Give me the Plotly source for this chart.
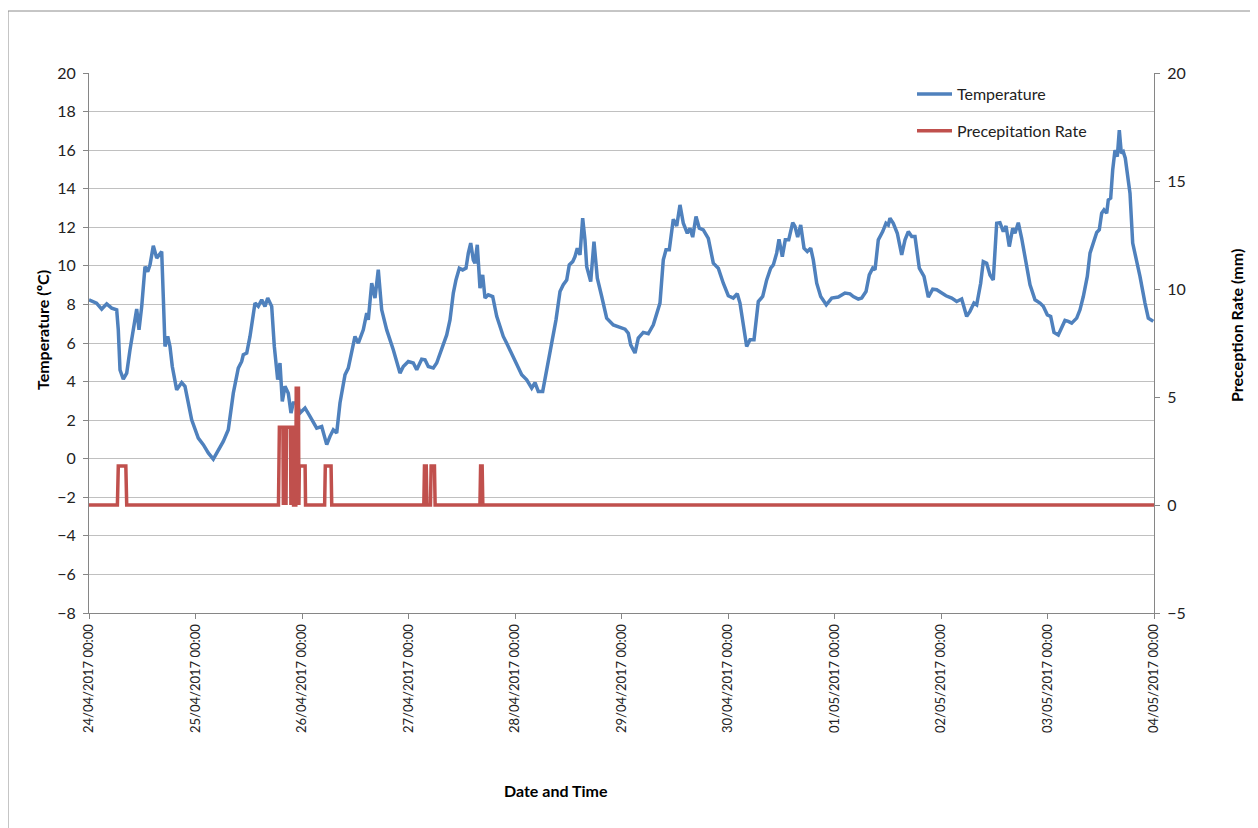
import pandas as pd
import plotly.graph_objects as go

start = pd.Timestamp("2017-04-24 00:00")

# Temperature readings: hours since 24/04/2017 00:00 and value (ºC)
temp_hours = [
    0, 1.7, 2.86, 3.99, 5.12, 6.24, 6.6, 6.99, 7.73, 8.5, 9.24, 10.21, 10.75, 11.27, 11.88,
    12.62, 13.23, 13.75, 14.49, 15.26, 15.77, 16.38, 16.74, 17.13, 17.74, 18.25, 18.77, 19.76,
    20.89, 21.63, 23.14, 24.63, 25.76, 26.88, 28.01, 29.14, 30.26, 31.39, 32.52, 33.64, 34.41,
    34.77, 35.54, 36.28, 36.66, 37.41, 38.15, 38.92, 39.66, 40.27, 41.17, 41.76, 42.52, 43.04,
    43.56, 44.17, 44.91, 45.52, 46.04, 46.81, 47.55, 48.68, 49.8, 50.55, 51.31, 52.44, 53.57,
    54.31, 55.05, 55.82, 56.56, 57.69, 58.43, 59.94, 60.69, 61.81, 62.58, 62.94, 63.71, 64.45,
    65.19, 65.96, 67.09, 68.57, 70.08, 70.83, 71.95, 73.08, 73.85, 74.97, 75.72, 76.46, 77.59,
    78.35, 79.1, 79.84, 80.61, 81.35, 82.1, 82.7, 83.45, 84.21, 84.96, 85.48, 86.02, 86.6,
    86.98, 87.5, 88.11, 88.72, 89.24, 89.98, 90.97, 91.88, 93.36, 94.13, 95.25, 96.38, 97.51,
    98.64, 99.76, 100.51, 101.25, 102.24, 103.14, 104.27, 105.24, 106.14, 106.88, 107.65,
    108.23, 109.0, 109.52, 110.04, 110.65, 111.25, 111.77, 112.16, 113.06, 113.8, 114.55,
    115.54, 116.66, 118.15, 119.66, 120.79, 121.53, 122.07, 123.04, 123.78, 124.91, 126.04,
    127.17, 127.93, 128.67, 129.42, 130.03, 130.77, 131.67, 132.44, 133.18, 133.93, 134.83,
    135.44, 136.04, 136.79, 137.53, 138.43, 139.56, 140.69, 141.81, 142.94, 144.07, 145.19,
    146.09, 146.7, 147.45, 148.21, 148.96, 149.86, 150.83, 151.82, 152.72, 153.62, 154.21,
    154.97, 155.49, 156.24, 156.91, 157.68, 158.58, 159.1, 159.7, 160.38, 161.13, 161.87,
    162.64, 163.22, 163.99, 164.89, 166.15, 167.37, 168.86, 170.36, 171.49, 172.24, 173.36,
    174.13, 175.1, 175.84, 176.61, 177.13, 177.87, 178.86, 179.6, 180.12, 180.5, 181.25,
    182.15, 183.14, 183.89, 184.63, 185.4, 186.14, 187.11, 188.17, 189.14, 190.13, 191.03,
    192.16, 193.13, 194.41, 195.54, 196.66, 197.79, 198.53, 199.43, 200.04, 200.94, 201.53,
    202.29, 203.04, 203.78, 204.55, 205.29, 206.04, 206.65, 207.39, 208.16, 208.67, 209.42,
    210.18, 211.15, 212.06, 213.18, 214.31, 215.05, 215.96, 216.72, 217.46, 218.43, 219.2,
    219.94, 220.69, 221.45, 222.58, 223.32, 224.07, 224.97, 225.58, 226.32, 227.09, 227.67,
    228.21, 228.73, 229.34, 229.7, 230.24, 230.69, 231.21, 231.73, 232.18, 232.63, 233.08,
    233.53, 233.98, 234.59, 235.2, 235.94, 236.84, 237.97, 238.72, 239.84,
]
temp_values = [
    8.24, 8.07, 7.76, 8.03, 7.81, 7.72, 6.68, 4.6, 4.13, 4.44, 5.65, 7.2, 7.76, 6.68, 7.9,
    9.96, 9.7, 10.05, 11.04, 10.4, 10.57, 10.74, 8.41, 5.82, 6.34, 5.82, 4.78, 3.57,
    3.95, 3.75, 2.02, 1.07, 0.73, 0.3, -0.02, 0.47, 0.9, 1.5, 3.4, 4.7, 5.04,
    5.39, 5.48, 6.34, 7.03, 8.07, 7.9, 8.24, 7.9, 8.33, 7.9, 5.82, 4.1, 4.96,
    2.97, 3.75, 3.4, 2.37, 2.89, 2.89, 2.37, 2.63, 2.19, 1.93, 1.59, 1.67, 0.73,
    1.16, 1.5, 1.33, 2.89, 4.35, 4.7, 6.34, 5.99, 6.68, 7.55, 7.2, 9.1, 8.33,
    9.8, 7.72, 6.68, 5.65, 4.44, 4.78, 5.04, 4.96, 4.61, 5.16, 5.13, 4.78, 4.7,
    4.96, 5.48, 5.9, 6.42, 7.2, 8.59, 9.27, 9.88, 9.79, 9.88, 10.66, 11.18, 10.31,
    10.14, 11.09, 8.85, 9.53, 8.33, 8.5, 8.41, 7.38, 6.34, 5.99, 5.48, 4.96, 4.35,
    4.09, 3.66, 3.95, 3.49, 3.49, 4.61, 5.99, 7.2, 8.67, 9.02, 9.27,
    10.05, 10.22, 10.48, 10.92, 10.57, 12.47, 11.35, 9.96, 9.18, 11.26, 9.36,
    8.41, 7.29, 6.94, 6.82, 6.72, 6.51, 5.9, 5.48, 6.25, 6.55, 6.48,
    6.94, 7.46, 8.07, 10.31, 10.83, 10.83, 12.42, 12.07, 13.16, 12.21, 11.69,
    11.95, 11.49, 12.56, 11.95, 11.87, 11.43, 10.14, 9.88, 9.1, 8.45, 8.33,
    8.55, 8.07, 7.03, 5.82, 6.17, 6.17, 8.15, 8.41, 9.27, 9.88, 10.05,
    10.66, 11.38, 10.48, 11.35, 11.35, 12.24, 12.04, 11.49, 12.12, 10.92, 10.74,
    10.92, 10.31, 9.1, 8.41, 7.98, 8.33, 8.38, 8.59, 8.55, 8.41, 8.28,
    8.33, 8.67, 9.53, 9.88, 9.79, 11.35, 11.78, 12.21, 12.12, 12.47, 12.21,
    11.69, 10.57, 11.35, 11.78, 11.52, 11.52, 9.88, 9.45, 8.38, 8.79, 8.76,
    8.59, 8.45, 8.33, 8.15, 8.28, 7.38, 7.64, 8.07, 7.98, 9.1, 10.22,
    10.14, 9.53, 9.27, 12.21, 12.24, 11.78, 12.07, 11.0, 11.95, 11.69, 12.24,
    11.43, 10.14, 9.02, 8.24, 8.07, 7.9, 7.46, 7.38, 6.55, 6.42, 6.86,
    7.17, 7.12, 7.03, 7.29, 7.72, 8.41, 9.45, 10.66, 11.26, 11.73, 11.87,
    12.73, 12.9, 12.73, 13.42, 13.51, 14.97, 16.0, 15.66, 17.04, 15.84, 15.92,
    15.58, 14.72, 13.77, 11.18, 10.48, 9.45, 8.07, 7.29, 7.12,
]

# Precipitation rate: hours since start and value (mm)
precip_hours = [
    0, 6.4, 6.6, 8.3, 8.5,
    42.7, 42.9, 43.7, 43.8, 43.9, 44.3, 44.4, 44.5, 45.4, 45.5, 45.6, 46.0, 46.1,
    46.6, 46.7, 47.2, 47.3, 47.4, 48.7, 48.8,
    53.1, 53.25, 54.55, 54.7,
    75.45, 75.6, 76.0, 76.15,
    76.95, 77.1, 77.85, 78.0,
    88.1, 88.25, 88.6, 88.75,
    240,
]
precip_values = [
    0, 0, 1.8, 1.8, 0,
    0, 3.6, 3.6, 0, 3.6, 3.6, 0, 3.6, 3.6, 0, 3.6, 3.6, 0,
    0, 5.4, 5.4, 0, 1.8, 1.8, 0,
    0, 1.8, 1.8, 0,
    0, 1.8, 1.8, 0,
    0, 1.8, 1.8, 0,
    0, 1.8, 1.8, 0,
    0,
]

temp_times = start + pd.to_timedelta(temp_hours, unit="h")
precip_times = start + pd.to_timedelta(precip_hours, unit="h")

FONT = "Lato, Open Sans, sans-serif"
BLUE = "#4F81BD"
RED = "#C0504D"
AXIS = "#868686"
GRID = "#C0C0C0"
TXT = "#222222"

fig = go.Figure()
fig.add_trace(go.Scatter(
    x=temp_times, y=temp_values, mode="lines", name="Temperature",
    line=dict(color=BLUE, width=3.5), legendgroup="a",
))
fig.add_trace(go.Scatter(
    x=precip_times, y=precip_values, mode="lines", name="Precepitation Rate",
    line=dict(color=RED, width=3.5), yaxis="y2", legendgroup="b",
))

# page has an 8px body margin; figure occupies page x 8..1258, y 8..828
OFF = 8
W, H = 1258 - OFF, 828 - OFF
L, R, T, B = 89, 1154, 73, 613   # plot area in page pixels
pw, ph = R - L, B - T


def px(x):
    return (x - L) / pw


def py(y):
    return (B - y) / ph


fig.update_layout(
    width=W, height=H,
    margin=dict(l=L - OFF, r=W - (R - OFF), t=T - OFF, b=H - (B - OFF), pad=0),
    paper_bgcolor="white", plot_bgcolor="white",
    font=dict(family=FONT, size=14, color=TXT),
    showlegend=True,
    legend=dict(
        x=px(912), y=py(77), xanchor="left", yanchor="top",
        bgcolor="rgba(0,0,0,0)", font=dict(family=FONT, size=16, color=TXT),
        traceorder="grouped", tracegroupgap=13, itemwidth=35,
    ),
    xaxis=dict(
        type="date",
        range=[start, start + pd.Timedelta(days=10)],
        dtick=86400000, tick0=start,
        tickformat="%d/%m/%Y %H:%M", tickangle=-90,
        showgrid=False, zeroline=False,
        showline=True, linecolor=AXIS, linewidth=1,
        ticks="outside", ticklen=5, tickcolor=AXIS,
        tickfont=dict(family=FONT, size=13, color=TXT),
    ),
    yaxis=dict(
        range=[-8, 20], dtick=2, tick0=0,
        showgrid=True, gridcolor=GRID, gridwidth=1, zeroline=False,
        showline=True, linecolor=AXIS, linewidth=1,
        ticks="outside", ticklen=5, tickcolor=AXIS, ticklabelstandoff=4,
        tickfont=dict(family=FONT, size=16, color=TXT),
    ),
    yaxis2=dict(
        range=[-5, 20], dtick=5, tick0=0,
        overlaying="y", side="right",
        showgrid=False, zeroline=False,
        showline=True, linecolor=AXIS, linewidth=1,
        ticks="outside", ticklen=5, tickcolor=AXIS, ticklabelstandoff=4,
        tickfont=dict(family=FONT, size=16, color=TXT),
    ),
    shapes=[
        dict(type="rect", xref="paper", yref="paper",
             x0=px(8), x1=px(1270), y0=py(840), y1=py(11),
             line=dict(color="#8C8C8C", width=1), fillcolor="rgba(0,0,0,0)",
             layer="below"),
    ],
    annotations=[
        dict(text="<b>Temperature (ºC)</b>", xref="paper", yref="paper",
             x=px(42), y=py(330), xanchor="center", yanchor="middle",
             textangle=-90, showarrow=False,
             font=dict(family=FONT, size=16, color="#000000")),
        dict(text="<b>Preception Rate (mm)</b>", xref="paper", yref="paper",
             x=px(1236), y=py(326), xanchor="center", yanchor="middle",
             textangle=-90, showarrow=False,
             font=dict(family=FONT, size=16, color="#000000")),
        dict(text="<b>Date and Time</b>", xref="paper", yref="paper",
             x=px(556), y=py(790), xanchor="center", yanchor="middle",
             showarrow=False,
             font=dict(family=FONT, size=16, color="#000000")),
    ],
)

fig.write_html("out.html")
